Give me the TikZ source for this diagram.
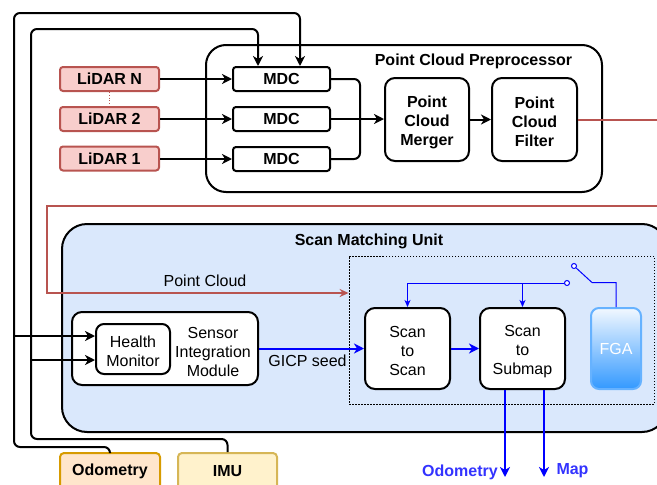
\documentclass[tikz,border=0pt]{standalone}
\usepackage{fontspec}
\setmainfont{Liberation Sans}
\usetikzlibrary{arrows.meta,calc}
\definecolor{lidarfill}{HTML}{F8CECC}
\definecolor{lidarline}{HTML}{B85450}
\definecolor{smufill}{HTML}{DAE8FC}
\definecolor{odofill}{HTML}{FFE6CC}
\definecolor{odoline}{HTML}{D79B00}
\definecolor{imufill}{HTML}{FFF2CC}
\definecolor{imuline}{HTML}{D6B656}
\definecolor{pblue}{HTML}{0000FF}
\definecolor{lblue}{HTML}{3333FF}
\definecolor{fgaline}{HTML}{66B2FF}
\definecolor{fgabot}{HTML}{3399FF}
\definecolor{fgatop}{HTML}{F2F8FF}
\newcommand\tup{\rule{0pt}{16.5pt}}
\tikzset{
  every node/.style={font=\fontsize{16}{19}\selectfont, align=center, inner sep=0pt},
  box/.style={draw, line width=2pt, rectangle, rounded corners=#1},
  box/.default=10pt,
  lidarbox/.style={box=3pt, draw=lidarline, fill=lidarfill, minimum width=99pt, minimum height=24pt, font=\fontsize{16}{19}\selectfont\bfseries},
  mdcbox/.style={box=3pt, fill=white, minimum width=97pt, minimum height=24pt, font=\fontsize{16}{19}\selectfont\bfseries},
  wire/.style={line width=2pt, draw=black},
  tip/.style={-{Stealth[length=10pt,width=10pt,inset=3pt]}},
  smalltip/.style={-{Stealth[length=7pt,width=6pt,inset=2pt]}},
  redwire/.style={line width=2pt, draw=lidarline},
  bthick/.style={line width=2pt, draw=pblue},
  bthin/.style={line width=1pt, draw=pblue},
  contact/.style={circle, draw=pblue, line width=1pt, fill=white, minimum size=5pt, inner sep=0pt},
}
\begin{document}
\begin{tikzpicture}[x=1pt,y=-1pt]
\path[use as bounding box] (0,0) rectangle (657,485);
\clip (0,0) rectangle (657,485);

% Preprocessor container
\node[box=20pt, fill=white, minimum width=396pt, minimum height=147pt] (prep) at (404,118.5) {};
\node[font=\fontsize{16}{19}\selectfont\bfseries] (preptitle) at (473.5,61.5) {Point Cloud Preprocessor};

% LiDARs
\node[lidarbox] (lidarN) at (109.5,79) {LiDAR N};
\node[lidarbox] (lidar2) at (109.5,119) {LiDAR 2};
\node[lidarbox] (lidar1) at (109.5,158.5) {LiDAR 1};
\draw[draw=lidarline, line width=0.8pt, dotted] (lidarN.south) -- (lidar2.north);

% MDCs
\node[mdcbox] (mdcN) at (281.5,79) {MDC};
\node[mdcbox] (mdc2) at (281.5,119) {MDC};
\node[mdcbox] (mdc1) at (281.5,159) {MDC};

\draw[wire,tip] (lidarN.east) -- (mdcN.west);
\draw[wire,tip] (lidar2.east) -- (mdc2.west);
\draw[wire,tip] (lidar1.east |- mdc1) -- (mdc1.west);

% Merger / Filter
\node[box=10pt, fill=white, minimum width=84pt, minimum height=83pt, font=\fontsize{16}{19}\selectfont\bfseries] (merger) at (427,119.5) {\tup Point\\Cloud\\Merger};
\node[box=10pt, fill=white, minimum width=85pt, minimum height=83pt, font=\fontsize{16}{19}\selectfont\bfseries] (filter) at (534.5,119.5) {\tup Point\\Cloud\\Filter};

\draw[wire, rounded corners=6pt] (mdcN.east) -| (360,119);
\draw[wire, rounded corners=6pt] (mdc1.east) -| (360,119);
\draw[wire,tip] (mdc2.east) -- (merger.west |- mdc2);
\draw[wire,tip] (merger.east) -- (filter.west);

% Scan Matching Unit
\node[box=25pt, fill=smufill, minimum width=605pt, minimum height=208pt] (smu) at (364.5,328) {};
\node[font=\fontsize{16}{19}\selectfont\bfseries] (smutitle) at (369,241.5) {Scan Matching Unit};
\node[draw, line width=0.8pt, dash pattern=on 1.5pt off 1.5pt, minimum width=305pt, minimum height=148pt] (dbox) at (501.5,330) {};

% Sensor Integration Module
\node[box=10pt, fill=white, minimum width=186pt, minimum height=73pt] (sim) at (165,348.5) {};
\node (simtext) at (213,349) {\tup Sensor\\Integration\\Module};
\node[box=8pt, fill=white, minimum width=74pt, minimum height=50pt] (hm) at (133,349) {\tup Health\\Monitor};

% Scan boxes
\node[box=10pt, fill=white, minimum width=85pt, minimum height=81pt] (sts) at (407.5,348.5) {\tup Scan\\to\\Scan};
\node[box=10pt, fill=white, minimum width=85pt, minimum height=81pt] (stsm) at (522.5,348.5) {\tup Scan\\to\\Submap};
\node[rectangle, rounded corners=8pt, draw=fgaline, line width=2pt, top color=fgatop, bottom color=fgabot, minimum width=50pt, minimum height=81pt, text=white] (fga) at (616,348.5) {FGA};

% Inputs Odometry / IMU
\node[box=4pt, draw=odoline, fill=odofill, minimum width=100pt, minimum height=40pt] (odo) at (110,473) {};
\node[font=\fontsize{16}{19}\selectfont\bfseries] (odotext) at (110,471) {Odometry};
\node[box=4pt, draw=imuline, fill=imufill, minimum width=99pt, minimum height=40pt] (imu) at (227.5,473) {};
\node[font=\fontsize{16}{19}\selectfont\bfseries] (imutext) at (227.5,471) {IMU};

% Sensor wires
\draw[wire, rounded corners=6pt, tip] (odo.north) -- (110,447) -| (14,13) -| ([xshift=18.5pt]mdcN.north);
\draw[wire, rounded corners=6pt, tip] (imu.north) -- (227.5,439) -| (31,29) -| ([xshift=-23.5pt]mdcN.north);
\coordinate (j1) at (14,336);
\coordinate (j2) at (31,360);
\draw[wire,tip] (j1) -- (j1 -| hm.west);
\draw[wire,tip] (j2) -- (j2 -| hm.west);

% Point cloud red wire
\coordinate (pcin) at (dbox.west |- 0,293);
\draw[redwire, -{Stealth[length=9pt,width=8pt,inset=3pt]}] (filter.east) -- (700,119.5) -- (700,206) -- (47,206) -- (47,293) -- (pcin);
\node (pclabel) at (205,281) {Point Cloud};

% GICP seed
\draw[bthick,tip] (sim.east) -- (sts.west);
\node[fill=smufill] (gicp) at (307.5,360.5) {GICP seed};
\draw[bthick,tip] (sts.east) -- (stsm.west);

% Switch and feedback
\node[contact] (c1) at (567,283) {};
\node[contact] (c2) at (574,266) {};
\draw[bthin,smalltip] (c1.west) -| (sts.north);
\draw[bthin,smalltip] (stsm.north |- c1) -- (stsm.north);
\draw[bthin] (c2) -- (592,282.5) -| (fga.north);

% Outputs
\coordinate (odoout) at (505,477);
\coordinate (mapout) at (544,477);
\draw[bthick,tip] (stsm.south -| odoout) -- (odoout);
\draw[bthick,tip] (stsm.south -| mapout) -- (mapout);
\node[text=lblue, font=\fontsize{16}{19}\selectfont\bfseries] (odolabel) at (460,472.5) {Odometry};
\node[text=lblue, font=\fontsize{16}{19}\selectfont\bfseries] (maplabel) at (572.5,470.5) {Map};
\end{tikzpicture}
\end{document}
